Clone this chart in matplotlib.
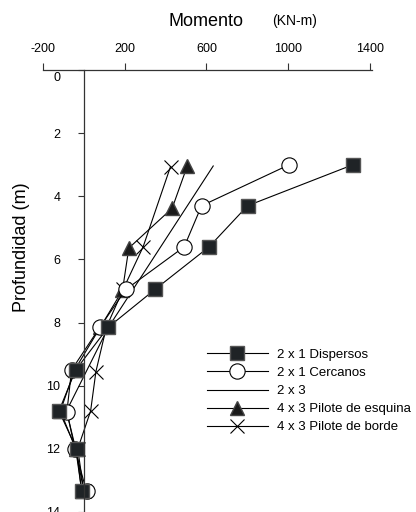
import matplotlib
matplotlib.use("Agg")
import matplotlib.pyplot as plt
import matplotlib.transforms as mtransforms

plt.rcParams['font.family'] = ['Liberation Sans', 'DejaVu Sans']

# depth (m) and moment (kN-m)
depth_disp = [3.0, 4.3, 5.6, 6.95, 8.15, 9.5, 10.8, 12.0, 13.35]
mom_disp = [1317, 801, 613, 348, 119, -40, -122, -36, -11]

depth_cerc = [3.0, 4.3, 5.6, 6.95, 8.15, 9.5, 10.82, 12.0, 13.35]
mom_cerc = [1005, 576, 491, 206, 78, -60, -83, -44, 13]

depth_2x3 = [3.04, 8.15, 10.8, 12.0, 13.35]
mom_2x3 = [633, 120, -85, -40, 0]

depth_esq = [3.04, 4.38, 5.64, 6.98, 8.15, 9.5, 10.8, 12.0, 13.35]
mom_esq = [506, 432, 220, 189, 80, -45, -115, -40, -10]

depth_borde = [3.06, 5.6, 6.95, 8.15, 9.55, 10.8, 12.0, 13.35]
mom_borde = [424, 290, 192, 110, 59, 33, -30, 0]

x_ticks = [-200, 200, 600, 1000, 1400]
y_ticks = [0, 2, 4, 6, 8, 10, 12, 14]

fig = plt.figure(figsize=(4.16, 5.12), dpi=100)
ax = fig.add_axes([43 / 416, 0.0, 329 / 416, 1 - 70 / 512])

lw = 0.8
ax.plot(mom_2x3, depth_2x3, color='black', lw=lw, label='2 x 3')
ax.plot(mom_borde, depth_borde, color='black', lw=lw, marker='x', ms=10,
        mew=0.8, label='4 x 3 Pilote de borde')
ax.plot(mom_esq, depth_esq, color='black', lw=lw, marker='^', ms=9.5,
        mfc='#1a1a1a', mec='#444444', label='4 x 3 Pilote de esquina')
ax.plot(mom_cerc, depth_cerc, color='black', lw=lw, marker='o', ms=11,
        mfc='white', mec='black', mew=0.8, label='2 x 1 Cercanos')
ax.plot(mom_disp, depth_disp, color='black', lw=lw, marker='s', ms=10,
        mfc='#1f2326', mec='#555555', label='2 x 1 Dispersos')

ax.set_xlim(-200, 1410)
ax.set_ylim(14, 0)

ax.spines['right'].set_visible(False)
ax.spines['bottom'].set_visible(False)
ax.spines['left'].set_position(('data', 0))
for side in ['top', 'left']:
    ax.spines[side].set_linewidth(0.9)
    ax.spines[side].set_color('#333333')

ax.xaxis.tick_top()
ax.set_xticks(x_ticks)
ax.set_xticklabels([str(v) for v in x_ticks])
ax.tick_params(axis='x', direction='out', length=5, width=0.8, pad=6,
               labelsize=9, color='#333333')
ax.set_yticks(y_ticks)
# the "0" label sits a little below the top axis in the original
ax.set_yticklabels([''] + [str(v) for v in y_ticks[1:]])
ax.tick_params(axis='y', direction='out', length=4, width=0.8, pad=13,
               labelsize=9, color='#333333')
zero_tr = mtransforms.blended_transform_factory(ax.transData, ax.transData) + \
    mtransforms.ScaledTranslation(-17 / 72, -6 / 72, fig.dpi_scale_trans)
ax.text(0, y_ticks[0], str(y_ticks[0]), transform=zero_tr, ha='right',
        va='center', fontsize=9)

fig.text(206 / 416, 1 - 22 / 512, 'Momento', ha='center', va='center',
         fontsize=13)
fig.text(295 / 416, 1 - 21 / 512, '(KN-m)', ha='center', va='center',
         fontsize=10)
fig.text(22 / 416, 1 - 247 / 512, 'Profundidad (m)', ha='center',
         va='center', rotation=90, fontsize=13)

handles, labels = ax.get_legend_handles_labels()
order = ['2 x 1 Dispersos', '2 x 1 Cercanos', '2 x 3',
         '4 x 3 Pilote de esquina', '4 x 3 Pilote de borde']
hmap = dict(zip(labels, handles))
ax.legend([hmap[k] for k in order], order, loc='center left',
          bbox_to_anchor=(207 / 416, 1 - 391 / 512),
          bbox_transform=fig.transFigure, frameon=False, fontsize=9.5,
          handlelength=4.6, handletextpad=0.7, labelspacing=0.45,
          borderpad=0, borderaxespad=0)

fig.savefig('out.png', dpi=100)
